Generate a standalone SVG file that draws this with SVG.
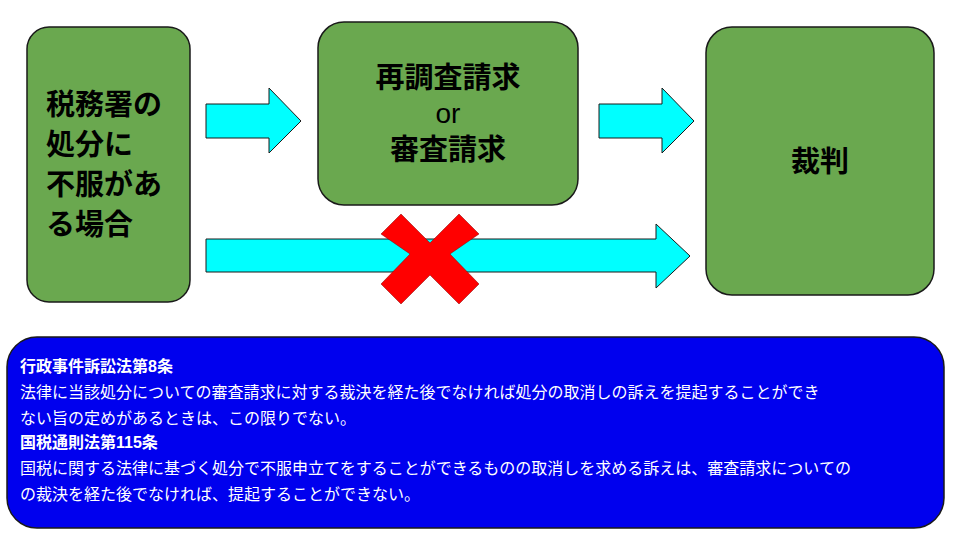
<svg xmlns="http://www.w3.org/2000/svg" width="960" height="540" viewBox="0 0 960 540">
<style>
.box{fill:#6aa84f;stroke:#1a1a1a;stroke-width:1.5}
.arr{fill:#00ffff;stroke:#1a1a1a;stroke-width:1}
.big{font-family:"Liberation Sans","Noto Sans CJK JP",sans-serif;font-weight:bold;font-size:29px;fill:#000}
.t{font-family:"Liberation Sans","Noto Sans CJK JP",sans-serif;font-size:16px;fill:#fff}
.tb{font-family:"Liberation Sans","Noto Sans CJK JP",sans-serif;font-size:16px;font-weight:bold;fill:#fff}
</style>
<rect width="960" height="540" fill="#fff"/>
<g id="connectors">
<polygon class="arr" points="206,104 269,104 269,88 301,121 269,153 269,138 206,138"/>
<polygon class="arr" points="599,104 662,104 662,88 694,121 662,153 662,138 599,138"/>
<polygon class="arr" points="206,239 656,239 656,224 690,256 656,288 656,272 206,272"/>
<g id="cross" fill="#ff0000" stroke="#800000" stroke-width="0.5">
<polygon points="381,234 401,214 430,243 459,214 479,234 450,254 479,284 459,304 430,275 401,304 381,284 410,254"/>
</g>
</g>
<g id="n1"><rect class="box" x="27" y="27" width="163" height="275" rx="22"/>
<text class="big" x="46" y="115">税務署の</text><text class="big" x="46" y="155">処分に</text><text class="big" x="46" y="195">不服があ</text><text class="big" x="46" y="235">る場合</text></g>
<g id="n2"><rect class="box" x="318" y="22" width="260" height="183" rx="26"/>
<text class="big" x="448" y="88" text-anchor="middle">再調査請求</text>
<text x="448" y="123" text-anchor="middle" font-family="Liberation Sans,sans-serif" font-size="28" fill="#000">or</text>
<text class="big" x="448" y="160" text-anchor="middle">審査請求</text></g>
<g id="n3"><rect class="box" x="706" y="27" width="228" height="268" rx="26"/>
<text class="big" x="820" y="172" text-anchor="middle">裁判</text></g>
<g id="note"><rect x="7" y="337" width="937" height="191" rx="30" fill="#0000ee" stroke="#1a1a1a" stroke-width="1.5"/>
<text class="tb" x="20" y="372">行政事件訴訟法第8条</text>
<text class="t" x="20" y="398">法律に当該処分についての審査請求に対する裁決を経た後でなければ処分の取消しの訴えを提起することができ</text>
<text class="t" x="20" y="424">ない旨の定めがあるときは、この限りでない。</text>
<text class="tb" x="20" y="448">国税通則法第115条</text>
<text class="t" x="20" y="474">国税に関する法律に基づく処分で不服申立てをすることができるものの取消しを求める訴えは、審査請求についての</text>
<text class="t" x="20" y="500">の裁決を経た後でなければ、提起することができない。</text></g>
</svg>
